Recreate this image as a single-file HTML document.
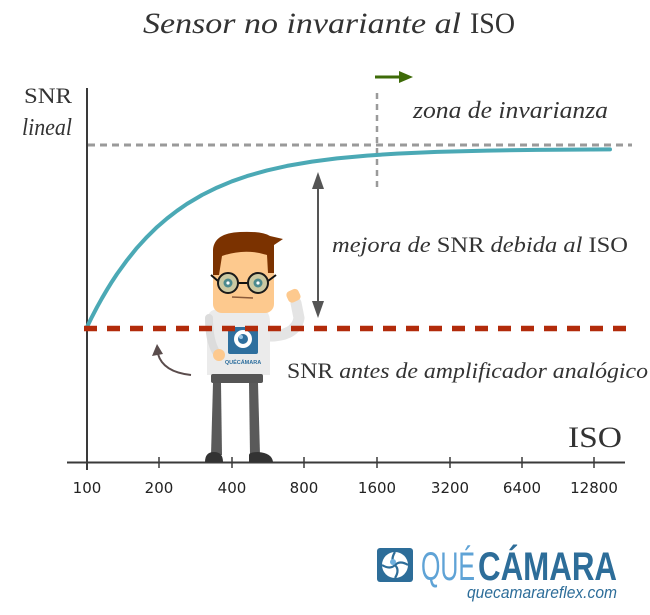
<!DOCTYPE html>
<html><head><meta charset="utf-8"><style>
html,body{margin:0;padding:0;background:#fff;}
svg{display:block;}
.s{font-family:"Liberation Serif",serif;fill:#333;}
</style></head><body>
<svg width="650" height="615" viewBox="0 0 650 615" xmlns="http://www.w3.org/2000/svg">
<!-- title -->
<text class="s" x="143" y="33" font-size="30" font-style="italic" textLength="318" lengthAdjust="spacingAndGlyphs">Sensor no invariante al</text>
<text class="s" x="470" y="33" font-size="30" textLength="45" lengthAdjust="spacingAndGlyphs">ISO</text>

<!-- y label -->
<text class="s" x="24" y="103" font-size="22" textLength="48" lengthAdjust="spacingAndGlyphs">SNR</text>
<text class="s" x="22" y="135" font-size="24" font-style="italic" textLength="50" lengthAdjust="spacingAndGlyphs">lineal</text>

<!-- axes -->
<line x1="87" y1="88" x2="87" y2="470" stroke="#3a3a3a" stroke-width="2"/>
<line x1="67" y1="462.5" x2="625" y2="462.5" stroke="#3a3a3a" stroke-width="2"/>
<g stroke="#3a3a3a" stroke-width="1.5">
<line x1="159" y1="457" x2="159" y2="468"/>
<line x1="232" y1="457" x2="232" y2="468"/>
<line x1="304" y1="457" x2="304" y2="468"/>
<line x1="377" y1="457" x2="377" y2="468"/>
<line x1="450" y1="457" x2="450" y2="468"/>
<line x1="522" y1="457" x2="522" y2="468"/>
<line x1="594" y1="457" x2="594" y2="468"/>
</g>
<g font-family="'DejaVu Sans','Liberation Sans',sans-serif" font-size="15" fill="#222" text-anchor="middle">
<text x="87" y="493">100</text>
<text x="159" y="493">200</text>
<text x="232" y="493">400</text>
<text x="304" y="493">800</text>
<text x="377" y="493">1600</text>
<text x="450" y="493">3200</text>
<text x="522" y="493">6400</text>
<text x="594" y="493">12800</text>
</g>
<text class="s" x="568" y="447" font-size="30" textLength="54" lengthAdjust="spacingAndGlyphs">ISO</text>

<!-- gray dashed lines -->
<line x1="88" y1="145" x2="632" y2="145" stroke="#9a9a9a" stroke-width="3" stroke-dasharray="7 5"/>
<line x1="377" y1="93" x2="377" y2="190" stroke="#9a9a9a" stroke-width="2.5" stroke-dasharray="6 5"/>
<!-- green arrow -->
<line x1="375" y1="77" x2="402" y2="77" stroke="#3e6b08" stroke-width="3"/>
<polygon points="413,77 399,71 399,83" fill="#3e6b08"/>
<text class="s" x="413" y="118" font-size="24" font-style="italic" textLength="195" lengthAdjust="spacingAndGlyphs">zona de invarianza</text>

<!-- curve -->
<path d="M87,327 L92,316.8 L97,307.2 L102,298.2 L107,289.7 L112,281.6 L117,274 L127,260.2 L137,247.8 L147,236.9 L157,227.1 L167,218.5 L177,210.8 L187,203.9 L202,195 L217,187.6 L232,181.3 L247,176.1 L267,170.4 L287,165.9 L312,161.6 L337,158.4 L367,155.6 L397,153.6 L437,151.9 L487,150.6 L537,149.9 L610,149.4" fill="none" stroke="#4ba9b5" stroke-width="4" stroke-linejoin="round" stroke-linecap="round"/>

<!-- character -->
<g>
<path d="M262,336 Q296,338 299,318 L296,303" fill="none" stroke="#e4e4e4" stroke-width="11" stroke-linecap="round"/>
<rect x="287" y="290" width="13" height="12" rx="4" fill="#fdc98e" transform="rotate(-25 293 296)"/>
<path d="M207,322 Q207,309 219,309 L259,309 Q270,309 270,322 L270,375 L207,375 Z" fill="#ebebeb"/>
<path d="M209,318 Q209,340 216,352" fill="none" stroke="#dcdcdc" stroke-width="8" stroke-linecap="round"/>
<circle cx="219" cy="355" r="6" fill="#fdc98e"/>
<rect x="228" y="327" width="30" height="27" rx="2" fill="#2e6f9e"/>
<circle cx="243" cy="339" r="9" fill="#fff"/>
<circle cx="243" cy="339" r="5" fill="#2e6f9e"/>
<circle cx="241" cy="337" r="2" fill="#9cc8e6"/>
<text x="243" y="364" font-family="'Liberation Sans',sans-serif" font-size="5.5" font-weight="bold" fill="#2e6f9e" text-anchor="middle">QUÉCÁMARA</text>
<rect x="211" y="374" width="52" height="9" rx="2" fill="#555"/>
<polygon points="213,383 221,383 222,455 211,455" fill="#5a5a5a"/>
<polygon points="249,383 258,383 260,455 250,455" fill="#5a5a5a"/>
<path d="M205,462 Q205,452 214,452 Q223,452 223,462 Z" fill="#333"/>
<path d="M249,462 L249,455 Q249,452 258,452 Q272,453 273,462 Z" fill="#333"/>
<rect x="213" y="240" width="61" height="73" rx="9" fill="#fdc98e"/>
<path d="M213,275 L213,250 Q214,233 240,232 Q262,231 270,236 L283,239 L274,245 L274,273 L268,273 L267,255 Q245,248 222,256 L219,275 Z" fill="#7b3200"/>
<line x1="218" y1="281" x2="211" y2="275" stroke="#111" stroke-width="2"/>
<line x1="268" y1="281" x2="276" y2="275" stroke="#111" stroke-width="2"/>
<line x1="238" y1="283" x2="248" y2="283" stroke="#111" stroke-width="2"/>
<circle cx="228" cy="283" r="10" fill="#cbc9a2" stroke="#1a1a1a" stroke-width="2"/>
<circle cx="258" cy="283" r="10" fill="#cbc9a2" stroke="#1a1a1a" stroke-width="2"/>
<circle cx="228" cy="283" r="4.5" fill="#4b8a8e"/>
<circle cx="258" cy="283" r="4.5" fill="#4b8a8e"/>
<circle cx="228" cy="283" r="1.6" fill="#fff"/>
<circle cx="258" cy="283" r="1.6" fill="#fff"/>
<line x1="232" y1="297" x2="253" y2="298" stroke="#8a5a3a" stroke-width="1.5"/>
</g>

<!-- red dashed -->
<line x1="84" y1="328.5" x2="628" y2="328.5" stroke="#b22b0b" stroke-width="5.5" stroke-dasharray="13 10"/>

<!-- double arrow -->
<line x1="318" y1="185" x2="318" y2="305" stroke="#555" stroke-width="2"/>
<polygon points="318,172 312,189 324,189" fill="#555"/>
<polygon points="318,318 312,301 324,301" fill="#555"/>

<text class="s" x="332" y="252" font-size="22" textLength="296" lengthAdjust="spacingAndGlyphs"><tspan font-style="italic">mejora de </tspan><tspan>SNR </tspan><tspan font-style="italic">debida al </tspan><tspan>ISO</tspan></text>

<!-- curved arrow -->
<path d="M191,375 Q163,372 158,354" fill="none" stroke="#5a4c4c" stroke-width="2"/>
<polygon points="157,344 152,356 163,354" fill="#5a4c4c"/>

<text class="s" x="287" y="378" font-size="22" textLength="361" lengthAdjust="spacingAndGlyphs"><tspan>SNR </tspan><tspan font-style="italic">antes de amplificador analógico</tspan></text>

<!-- logo -->
<rect x="377" y="548" width="36" height="34" rx="3" fill="#2d6d99"/>
<circle cx="395" cy="565" r="13" fill="#fff"/>
<g stroke="#2d6d99" stroke-width="2.2" fill="none">
<path d="M395,552 Q390,560 395,565"/>
<path d="M408,565 Q400,560 395,565"/>
<path d="M395,578 Q400,570 395,565"/>
<path d="M382,565 Q390,570 395,565"/>
</g>
<circle cx="393" cy="562" r="3" fill="#6fb0de"/>
<text x="421" y="580" font-family="'Liberation Sans Narrow','Liberation Sans',sans-serif" font-size="40" fill="#5fa3d6" textLength="54" lengthAdjust="spacingAndGlyphs">QUÉ</text>
<text x="478" y="580" font-family="'Liberation Sans Narrow','Liberation Sans',sans-serif" font-size="40" font-weight="bold" fill="#2d6d99" textLength="139" lengthAdjust="spacingAndGlyphs">CÁMARA</text>
<text x="467" y="598" font-family="'Liberation Sans',sans-serif" font-size="17" font-style="italic" fill="#2d6d99" textLength="150" lengthAdjust="spacingAndGlyphs">quecamarareflex.com</text>
</svg>
</body></html>
